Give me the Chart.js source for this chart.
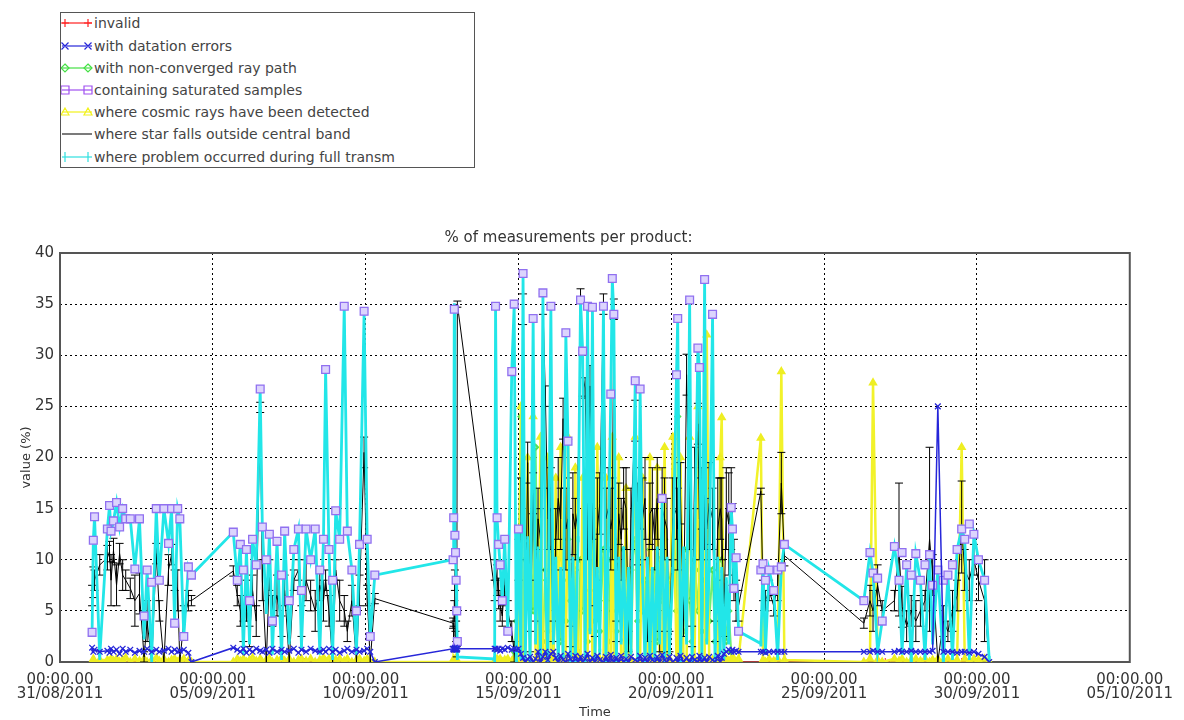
<!DOCTYPE html>
<html>
<head>
<meta charset="utf-8">
<title>% of measurements per product</title>
<script src="https://cdn.jsdelivr.net/npm/chart.js@4.4.1/dist/chart.umd.min.js"></script>
<style>
  body { margin: 0; background: #fff; }
  #wrap { position: relative; width: 1184px; height: 720px; overflow: hidden; }
  #chart { position: absolute; left: 0; top: 0; }
  #legend {
    position: absolute; left: 60px; top: 12px; width: 413px; height: 154px;
    border: 1px solid #555; background: #fff;
    font-family: "DejaVu Sans", sans-serif; font-size: 14px; color: #444;
  }
  #legend .row { position: absolute; left: 0; height: 16px; line-height: 16px; white-space: nowrap; }
  #legend svg { position: absolute; left: 0; top: 1px; }
  #legend span { position: absolute; left: 33px; top: 0; }
</style>
</head>
<body>
<div id="wrap">
  <canvas id="chart" width="1184" height="720"></canvas>
  <div id="legend"></div>
</div>
<script>
// x values are days since 31/08/2011 00:00
const dateLabels = ['31/08/2011', '05/09/2011', '10/09/2011', '15/09/2011',
                    '20/09/2011', '25/09/2011', '30/09/2011', '05/10/2011'];

const seriesNames = [
  'invalid',
  'with datation errors',
  'with non-converged ray path',
  'containing saturated samples',
  'where cosmic rays have been detected',
  'where star falls outside central band',
  'where problem occurred during full transm'
];

const times = [
  // 01/09 - 04/09
  1.05, 1.09, 1.13, 1.30, 1.55, 1.62, 1.67, 1.75, 1.85, 1.95,
  2.05, 2.15, 2.30, 2.45, 2.60, 2.75, 2.85, 3.00, 3.15, 3.25,
  3.40, 3.55, 3.65, 3.75, 3.85, 3.92, 4.05, 4.20, 4.30,
  // 05/09 - 10/09
  5.67, 5.80, 5.90, 6.00, 6.10, 6.20, 6.30, 6.42, 6.55, 6.62,
  6.75, 6.85, 6.95, 7.10, 7.25, 7.35, 7.50, 7.65, 7.80, 7.90,
  8.05, 8.20, 8.35, 8.50, 8.62, 8.69, 8.80, 8.92, 9.02, 9.15,
  9.30, 9.40, 9.55, 9.70, 9.80, 9.95, 10.05, 10.15, 10.30,
  // 12/09
  12.86, 12.88, 12.90, 12.92, 12.94, 12.96, 12.98, 13.00,
  // 14/09 - 22/09
  14.22, 14.25, 14.30, 14.35, 14.40, 14.47, 14.55, 14.65, 14.78, 14.86,
  14.93, 15.00, 15.08, 15.15, 15.22, 15.30, 15.38, 15.48, 15.56, 15.64,
  15.72, 15.80, 15.88, 15.96, 16.06, 16.14, 16.22, 16.30, 16.38, 16.46,
  16.55, 16.62, 16.70, 16.78, 16.86, 16.95, 17.03, 17.10, 17.18, 17.26,
  17.34, 17.42, 17.50, 17.58, 17.66, 17.78, 17.86, 17.94, 18.02, 18.07,
  18.12, 18.20, 18.28, 18.36, 18.44, 18.52, 18.60, 18.68, 18.82, 18.90,
  18.98, 19.06, 19.14, 19.22, 19.30, 19.38, 19.46, 19.54, 19.62, 19.70,
  19.78, 19.86, 19.94, 20.05, 20.17, 20.21, 20.30, 20.40, 20.50, 20.60,
  20.68, 20.76, 20.87, 20.92, 21.00, 21.09, 21.16, 21.24, 21.35, 21.43,
  21.52, 21.60, 21.65, 21.72, 21.80, 21.88, 21.96, 22.00, 22.05, 22.12, 22.20,
  // 22/09 - 23/09
  22.93, 23.00, 23.08, 23.20, 23.35, 23.48, 23.60, 23.70,
  // 26/09 - 30/09
  26.30, 26.50, 26.60, 26.75, 26.90, 27.30, 27.45, 27.55, 27.70, 27.85,
  28.00, 28.15, 28.30, 28.45, 28.55, 28.72, 28.90, 29.05, 29.20, 29.35,
  29.50, 29.60, 29.75, 29.90, 30.05, 30.25, 30.40
];

const fullTransm = [
  2.9, 11.9, 14.2, 0.5, 13.0, 15.3, 12.8, 13.8, 15.6, 13.2,
  15.0, 14.0, 14.0, 9.1, 14.0, 2.5, 9.0, 0.3, 15.0, 8.0,
  15.0, 11.6, 15.0, 3.8, 15.0, 14.0, 2.5, 9.3, 8.5,

  12.7, 8.0, 11.5, 1.0, 11.0, 2.0, 12.0, 9.5, 26.7, 13.2,
  5.0, 12.5, 1.0, 11.8, 0.5, 12.8, 2.0, 11.0, 13.0, 1.5,
  13.0, 10.0, 13.0, 1.0, 12.0, 28.6, 11.0, 0.5, 14.8, 12.0,
  34.8, 12.8, 9.0, 1.0, 11.5, 34.3, 12.0, 2.5, 8.5,

  10.0, 14.1, 34.8, 12.4, 10.7, 8.0, 5.0, 0.5,

  0.3, 34.8, 14.1, 11.5, 9.5, 6.0, 12.0, 3.0, 28.4, 35.0,
  0.0, 13.0, 0.5, 38.0, 0.0, 12.0, 0.0, 33.6, 2.0, 11.0,
  0.0, 36.1, 8.0, 0.0, 34.8, 2.0, 10.0, 0.0, 9.0, 0.5,
  32.2, 21.6, 0.0, 10.0, 0.0, 12.0, 35.4, 30.4, 0.0, 34.8,
  3.0, 34.7, 0.0, 9.0, 1.0, 34.8, 0.0, 11.0, 26.2, 37.5,
  34.0, 0.0, 10.0, 2.0, 11.0, 0.0, 9.0, 1.0, 27.5, 0.0,
  26.7, 8.0, 0.0, 10.0, 0.5, 9.0, 0.0, 11.0, 2.0, 16.0,
  0.0, 10.0, 1.0, 9.0, 28.1, 33.6, 0.0, 11.0, 2.0, 35.4,
  0.0, 10.0, 30.7, 28.8, 0.0, 37.4, 2.0, 9.0, 34.0, 0.0,
  10.0, 1.0, 9.0, 0.5, 8.0, 2.0, 15.1, 13.0, 7.2, 10.2, 3.0,

  1.8, 9.6, 1.0, 9.0, 7.0, 0.5, 9.3, 11.5,

  6.0, 10.7, 8.7, 1.0, 4.0, 11.3, 8.0, 1.0, 9.5, 0.0,
  10.6, 8.0, 0.5, 10.5, 2.0, 9.0, 0.0, 8.5, 0.5, 11.0,
  13.0, 12.0, 0.5, 12.5, 10.0, 8.0, 0.3
];

const saturated = [
  2.9, 11.9, 14.2, null, 13.0, 15.3, 12.8, 13.8, 15.6, 13.2,
  15.0, 14.0, 14.0, 9.1, 14.0, 4.5, 9.0, 7.8, 15.0, 8.0,
  15.0, 11.6, 15.0, 3.8, 15.0, 14.0, 2.5, 9.3, 8.5,

  12.7, 8.0, 11.5, 9.0, 11.0, 6.0, 12.0, 9.5, 26.7, 13.2,
  10.0, 12.5, 4.0, 11.8, 8.5, 12.8, 6.0, 11.0, 13.0, 7.0,
  13.0, 10.0, 13.0, 9.0, 12.0, 28.6, 11.0, 8.0, 14.8, 12.0,
  34.8, 12.8, 9.0, 5.0, 11.5, 34.3, 12.0, 2.5, 8.5,

  10.0, 14.1, 34.5, 12.4, 10.7, 8.0, 5.0, 2.0,

  null, 34.8, 14.1, 11.5, 9.5, 6.0, 12.0, 3.0, 28.4, 35.0,
  null, 13.0, null, 38.0, null, null, null, 33.6, null, null,
  null, 36.1, null, null, 34.8, null, null, null, null, null,
  32.2, 21.6, null, null, null, null, 35.4, 30.4, null, 34.8,
  null, 34.7, null, null, null, 34.8, null, null, 26.2, 37.5,
  34.0, null, null, null, null, null, null, null, 27.5, null,
  26.7, null, null, null, null, null, null, null, null, 16.0,
  null, null, null, null, 28.1, 33.6, null, null, null, 35.4,
  null, null, 30.7, 28.8, null, 37.4, null, null, 34.0, null,
  null, null, null, null, null, null, 15.1, 13.0, 7.2, 10.2, 3.0,

  9.0, 9.6, 8.0, 9.0, 7.0, 9.0, 9.3, 11.5,

  6.0, 10.7, 8.7, 8.2, 4.0, 11.3, 8.0, 10.7, 9.5, 8.5,
  10.6, 8.0, 9.5, 10.5, 7.5, 9.0, 8.0, 8.5, 9.5, 11.0,
  13.0, 12.0, 13.5, 12.5, 10.0, 8.0, null
];

const outsideBand = [
  6.5, 7.8, 8.0, 9.5, 10.2, 10.8, 8.0, 10.9, 7.5, 10.6,
  8.5, 8.0, 7.2, 6.0, 6.7, 0.5, 4.0, 0.0, 10.6, 5.0,
  0.0, 9.0, 10.5, 8.0, 7.0, 0.0, 4.0, 6.0, 6.0,

  8.9, 6.5, 5.0, 3.0, 6.0, 2.5, 7.0, 4.0, 24.9, 8.0,
  0.0, 8.5, 5.0, 6.5, 3.5, 7.0, 0.0, 8.0, 9.0, 4.0,
  8.0, 6.5, 5.0, 7.5, 6.0, 8.0, 5.0, 0.0, 9.0, 6.0,
  5.0, 3.0, 6.0, 0.0, 7.0, 20.5, 6.5, 0.0, 6.2,

  3.8, 2.5, 5.0, 8.0, 2.0, 3.0, 1.0, 35.0,

  7.0, 9.0, 8.0, 6.7, 5.5, 4.5, 7.5, 5.0, 3.0, 1.0,
  0.0, 10.0, 14.0, 34.5, 0.0, 19.5, 2.0, 16.5, 6.0, 14.0,
  12.0, 35.0, 26.0, 14.0, 15.0, 3.0, 12.0, 16.0, 14.0, 23.8,
  13.0, 14.0, 2.5, 14.5, 13.0, 15.0, 36.0, 28.0, 26.8, 14.0,
  27.0, 16.0, 4.0, 13.0, 15.5, 35.0, 14.0, 15.0, 13.0, 14.0,
  34.5, 3.0, 14.5, 12.0, 16.0, 15.0, 2.0, 14.0, 23.6, 13.5,
  16.0, 14.0, 16.0, 3.5, 14.5, 15.0, 12.0, 16.0, 2.0, 15.0,
  14.0, 13.0, 2.0, 14.0, 15.0, 13.0, 16.5, 4.0, 28.1, 15.0,
  2.5, 18.0, 23.3, 14.0, 16.0, 15.0, 13.0, 15.5, 14.0, 3.0,
  13.0, 15.0, 14.0, 4.0, 15.0, 13.5, 15.0, 11.5, 9.0, 6.0, 5.5,

  16.7, 7.0, 6.0, 7.0, 5.5, 7.5, 17.5, 10.4,

  3.8, 6.0, 5.0, 7.5, 5.0, 6.0, 11.0, 5.4, 3.5, 5.0,
  4.0, 5.0, 6.0, 12.0, 8.5, 0.0, 4.0, 3.0, 5.0, 6.5,
  13.2, 9.0, 8.0, 10.0, 8.0, 6.0, 0.0
];

// half length of the error bars on the central band series
const outsideBandErr = [
  1.0, 1.5, 1.0, 1.0, 1.2, 1.0, 2.5, 1.2, 2.0, 1.0,
  1.5, 1.0, 1.0, 2.5, 2.0, 0.5, 2.0, 0, 1.0, 1.0,
  0, 1.5, 1.0, 1.0, 2.0, 0, 1.5, 1.0, 0.5,

  0.5, 1.0, 1.5, 1.0, 2.0, 1.0, 1.5, 1.5, 0.5, 2.0,
  0, 1.5, 1.5, 2.0, 1.0, 1.5, 0, 1.0, 1.0, 1.5,
  2.0, 1.5, 2.0, 1.5, 2.0, 1.0, 1.5, 0, 1.0, 2.0,
  1.5, 1.0, 1.5, 0, 1.5, 1.5, 1.0, 0, 0.5,

  0.5, 1.0, 1.0, 1.0, 1.0, 1.0, 0.5, 0.3,

  1.0, 1.0, 1.5, 1.5, 1.5, 1.0, 1.0, 1.0, 1.0, 1.0,
  0, 2.0, 4.0, 1.5, 0, 2.0, 1.0, 2.0, 2.0, 3.0,
  3.0, 1.0, 1.0, 3.0, 4.0, 1.0, 3.0, 4.0, 3.0, 2.0,
  4.0, 4.0, 1.0, 4.0, 3.0, 5.0, 0.5, 2.0, 1.0, 4.0,
  2.0, 4.0, 1.5, 5.0, 3.0, 1.0, 3.0, 4.0, 4.0, 4.0,
  1.0, 1.0, 3.0, 4.0, 3.0, 4.0, 1.0, 3.0, 2.0, 4.0,
  3.0, 4.0, 4.0, 1.5, 3.0, 4.0, 3.0, 4.0, 1.0, 4.0,
  4.0, 3.0, 1.0, 4.0, 3.0, 4.0, 3.0, 1.5, 2.0, 4.0,
  1.0, 3.0, 2.0, 4.0, 3.0, 4.0, 3.0, 4.0, 3.0, 1.0,
  5.0, 3.0, 4.0, 1.5, 4.0, 5.0, 4.0, 4.0, 3.0, 2.0, 1.5,

  0.3, 1.0, 1.0, 1.0, 1.0, 1.5, 3.0, 1.0,

  0.5, 1.5, 2.0, 2.0, 1.0, 1.0, 6.5, 2.0, 1.5, 1.5,
  2.0, 1.5, 1.0, 9.0, 2.0, 0, 1.5, 1.0, 2.0, 1.5,
  4.5, 2.0, 2.0, 1.5, 2.0, 4.0, 0
];

const datation = [
  1.4, 1.0, 1.2, 1.0, 1.1, 0.9, 1.3, 1.0, 1.2, 0.8,
  1.3, 1.0, 1.2, 0.9, 1.1, 1.0, 1.3, 1.0, 1.2, 1.0,
  1.1, 1.3, 1.0, 1.2, 1.0, 1.1, 1.2, 0.9, 0.0,

  1.4, 1.2, 1.0, 1.3, 0.9, 1.2, 1.0, 1.3, 1.1, 1.0,
  1.2, 0.9, 1.3, 1.0, 1.2, 1.0, 1.1, 1.3, 0.9, 1.2,
  1.0, 1.3, 1.1, 1.0, 1.2, 1.0, 1.3, 1.0, 1.2, 0.9,
  1.1, 1.3, 1.0, 1.2, 1.0, 1.1, 1.3, 1.0, 0.0,

  1.3, 1.2, 1.3, 1.4, 1.2, 1.3, 1.2, 1.3,

  1.3, 1.3, 1.2, 1.3, 1.1, 1.3, 1.2, 1.4, 1.2, 1.3,
  1.2, 1.3, 0.8, 0.4, 0.0, 0.3, 0.5, 0.0, 0.3, 1.0,
  0.0, 0.5, 1.0, 0.2, 0.8, 1.0, 0.4, 0.0, 0.6, 0.2,
  0.0, 0.8, 0.3, 0.0, 0.6, 0.0, 0.5, 0.0, 0.3, 0.8,
  0.0, 0.4, 0.0, 0.6, 0.2, 0.0, 0.5, 0.0, 0.7, 0.2,
  0.0, 0.4, 0.0, 0.6, 0.0, 0.3, 0.0, 0.5, 0.2, 0.0,
  0.6, 0.0, 0.4, 0.0, 0.6, 0.2, 0.0, 0.5, 0.0, 0.7,
  0.2, 0.0, 0.5, 0.0, 0.4, 0.0, 0.6, 0.0, 0.4, 0.0,
  0.5, 0.2, 0.0, 0.6, 0.0, 0.4, 0.0, 0.5, 0.2, 0.0,
  0.6, 0.0, 0.4, 0.8, 1.0, 1.2, 1.0, 1.2, 1.0, 1.1, 1.0,

  1.0, 1.0, 0.9, 1.0, 1.0, 1.0, 1.0, 1.0,

  1.0, 1.0, 1.1, 1.0, 1.0, 1.0, 1.1, 1.0, 1.0, 1.1,
  1.0, 1.0, 1.0, 1.0, 1.1, 25.0, 1.0, 1.0, 1.0, 0.9,
  1.0, 1.0, 0.9, 1.0, 0.8, 0.5, 0.0
];

const cosmicRays = [
  0.0, 0.3, 0.0, 0.2, 0.2, 0.0, 0.3, 0.1, 0.3, 0.0,
  0.2, 0.4, 0.0, 0.3, 0.1, 0.3, 0.0, 0.2, 0.4, 0.1,
  0.3, 0.0, 0.2, 0.3, 0.0, 0.2, 0.3, 0.1, 0.0,

  0.0, 0.3, 0.1, 0.3, 0.0, 0.2, 0.4, 0.1, 0.3, 0.0,
  0.2, 0.3, 0.0, 0.2, 0.4, 0.1, 0.3, 0.0, 0.2, 0.3,
  0.1, 0.3, 0.0, 0.2, 0.4, 0.1, 0.3, 0.0, 0.2, 0.3,
  0.1, 0.3, 0.0, 0.2, 0.3, 0.1, 0.3, 0.0, 0.0,

  0.0, 0.3, 0.1, 0.2, 0.3, 0.0, 0.2, 0.0,

  0.0, 0.0, 0.3, 0.1, 0.3, 0.0, 0.2, 0.3, 0.1, 0.3,
  0.0, 0.2, 25.0, 0.3, 0.1, 20.0, 0.3, 24.0, 0.1, 0.3,
  22.0, 0.2, 0.3, 20.0, 0.2, 0.0, 18.0, 0.3, 21.0, 0.1,
  0.2, 22.0, 0.1, 0.3, 19.0, 0.2, 0.3, 18.0, 0.1, 0.3,
  20.0, 0.2, 0.3, 21.0, 0.1, 0.3, 18.0, 0.2, 0.3, 22.0,
  0.1, 0.3, 20.0, 0.2, 0.3, 17.0, 0.1, 0.3, 22.0, 0.2,
  0.3, 18.0, 0.1, 0.3, 20.0, 0.2, 0.3, 19.0, 0.1, 0.3,
  21.0, 0.2, 0.3, 22.0, 0.1, 0.3, 20.0, 0.2, 0.3, 22.0,
  0.1, 0.3, 25.0, 0.2, 0.3, 0.1, 32.0, 0.3, 0.2, 0.3,
  0.1, 20.0, 23.9, 0.2, 0.3, 0.1, 0.3, 0.2, 0.3, 0.0, 0.3,

  21.9, 0.2, 0.0, 0.3, 0.1, 0.3, 28.4, 0.2,

  0.0, 0.3, 27.3, 0.2, 0.0, 0.3, 0.1, 0.3, 0.0, 0.2,
  0.3, 0.1, 0.3, 0.0, 0.2, 0.3, 0.1, 0.3, 0.0, 0.2,
  21.0, 0.3, 0.1, 0.3, 0.2, 0.3, 0.0
];

// only sampled during 14/09 - 22/09, starting at times[convFrom]
const convFrom = 76;
const nonConverged = [
  0, 0, 0, 0, 0, 0, 0, 0, 0, 1.0,
  4.0, 8.0, 24.0, 3.0, 10.0, 6.0, 12.0, 5.0, 21.0, 4.0,
  8.0, 2.0, 9.0, 3.0, 11.0, 0.0, 6.0, 10.0, 2.0, 8.0,
  4.0, 12.0, 6.0, 3.0, 9.0, 1.0, 10.0, 5.0, 11.0, 2.0,
  7.0, 12.0, 4.0, 9.0, 3.0, 11.0, 6.0, 2.0, 10.0, 5.0,
  12.0, 3.0, 8.0, 4.0, 11.0, 6.0, 2.0, 9.0, 12.0, 4.0,
  10.0, 5.0, 8.0, 3.0, 11.0, 5.0, 9.0, 2.0, 10.0, 6.0,
  12.0, 3.0, 8.0, 10.0, 5.0, 24.0, 9.0, 3.0, 11.0, 6.0,
  2.0, 10.0, 5.0, 9.0, 3.0, 8.0, 12.0, 4.0, 9.0, 2.0,
  8.0, 3.0, 10.0, 6.0, 2.0, 5.0, 1.0, 0, 0, 0, 0
];

const invalidTimes = [1.1, 2.5, 4.0, 6.0, 8.0, 10.0, 12.9, 15.0, 18.0, 21.0, 23.2, 27.0, 29.5];
const invalid = [0, 0, 0, 0, 0, 0, 0, 0, 0, 0, 0, 0, 0];

const FONT = '"DejaVu Sans", sans-serif';
const TEXT = '#333';

const pts = (xs, ys) => ys.map((y, i) => ({ x: xs[i], y }));

// error bars for datasets carrying an errHalf array
const errorBars = {
  id: 'errorBars',
  afterDatasetDraw(chart, args) {
    const ds = chart.data.datasets[args.index];
    if (!ds.errHalf) return;
    const { ctx, chartArea: a, scales: { x, y } } = chart;
    ctx.save();
    ctx.beginPath();
    ctx.rect(a.left, a.top, a.width, a.height);
    ctx.clip();
    ctx.strokeStyle = ds.borderColor;
    ctx.lineWidth = 1;
    ctx.beginPath();
    ds.data.forEach((p, i) => {
      const e = ds.errHalf[i];
      if (p.y == null || !e) return;
      const px = x.getPixelForValue(p.x);
      const top = y.getPixelForValue(p.y + e);
      const bot = y.getPixelForValue(Math.max(0, p.y - e));
      ctx.moveTo(px, top); ctx.lineTo(px, bot);
      ctx.moveTo(px - 4, top); ctx.lineTo(px + 4, top);
      ctx.moveTo(px - 4, bot); ctx.lineTo(px + 4, bot);
    });
    ctx.stroke();
    ctx.restore();
  }
};

// box round the plot area
const frame = {
  id: 'frame',
  beforeDatasetsDraw(chart) {
    const { ctx, chartArea: a } = chart;
    ctx.save();
    ctx.strokeStyle = '#555';
    ctx.lineWidth = 2;
    ctx.strokeRect(a.left, a.top, a.width, a.height);
    ctx.restore();
  }
};

const styles = [
  { color: '#ff2020', marker: 'cross' },
  { color: '#2626d9', marker: 'crossRot' },
  { color: '#44e044', marker: 'rectRot' },
  { color: '#a050f0', marker: 'rect' },
  { color: '#f2f21a', marker: 'triangle' },
  { color: '#222222', marker: null },
  { color: '#30e0e0', marker: 'line' }
];

const datasets = [
  {
    label: seriesNames[0], data: pts(invalidTimes, invalid), order: 7,
    borderColor: styles[0].color, borderWidth: 1,
    pointStyle: 'cross', pointRadius: 4, pointBorderColor: styles[0].color
  },
  {
    label: seriesNames[1], data: pts(times, datation), order: 1,
    borderColor: '#2626d9', borderWidth: 1.5,
    pointStyle: 'crossRot', pointRadius: 4, pointBorderColor: '#2626d9', pointBorderWidth: 1.3
  },
  {
    label: seriesNames[2], data: pts(times.slice(convFrom), nonConverged), order: 6,
    borderColor: '#70f070', borderWidth: 2,
    pointStyle: 'rectRot', pointRadius: 2.5, pointBorderColor: '#55e055', pointBackgroundColor: '#9cf79c'
  },
  {
    label: seriesNames[3], data: pts(times, saturated), order: 2, showLine: false,
    borderColor: '#9a5cf0',
    pointStyle: 'rect', pointRadius: 5.5, pointBorderWidth: 1.3,
    pointBorderColor: '#9070f0', pointBackgroundColor: '#dcd4fd'
  },
  {
    label: seriesNames[4], data: pts(times, cosmicRays), order: 5,
    borderColor: '#f2f22a', borderWidth: 2.5,
    pointStyle: 'triangle', pointRadius: 3, pointBorderColor: '#eeee22', pointBackgroundColor: '#f6f650'
  },
  {
    label: seriesNames[5], data: pts(times, outsideBand), order: 4, errHalf: outsideBandErr,
    borderColor: '#000', borderWidth: 1, pointRadius: 0
  },
  {
    label: seriesNames[6], data: pts(times, fullTransm), order: 3,
    borderColor: '#22e6e8', borderWidth: 2.8,
    pointStyle: 'line', pointRotation: 90, pointRadius: 3, pointBorderColor: '#22e6e8'
  }
];

Chart.defaults.font.family = FONT;

new Chart(document.getElementById('chart'), {
  type: 'line',
  data: { datasets },
  options: {
    responsive: false,
    animation: false,
    devicePixelRatio: 1,
    layout: { padding: { top: 224, right: 47, left: 0, bottom: 0 } },
    plugins: {
      legend: { display: false },
      tooltip: { enabled: false },
      title: {
        display: true,
        text: '% of measurements per product:',
        color: TEXT,
        font: { size: 15, weight: 'normal' },
        padding: { top: 5, bottom: 6 }
      }
    },
    scales: {
      x: {
        type: 'linear', min: 0, max: 35,
        ticks: {
          stepSize: 5, autoSkip: false, maxRotation: 0, padding: 11,
          color: TEXT, font: { size: 15, lineHeight: 0.95 },
          callback: v => ['00:00.00', dateLabels[Math.round(v / 5)]]
        },
        grid: { color: '#000', lineWidth: 1, drawTicks: false },
        border: { display: false, dash: [2, 3] },
        title: { display: true, text: 'Time', color: TEXT, font: { size: 13 }, padding: { top: 0, bottom: 0 } },
        afterFit: s => { s.height = 58; }
      },
      y: {
        min: 0, max: 40,
        ticks: { stepSize: 5, padding: 6, color: TEXT, font: { size: 15 } },
        grid: { color: '#000', lineWidth: 1, drawTicks: false },
        border: { display: false, dash: [2, 3] },
        title: { display: true, text: 'value (%)', color: TEXT, font: { size: 13 }, padding: { top: 19, bottom: 0 } },
        afterFit: s => { s.width = 60; }
      }
    }
  },
  plugins: [frame, errorBars]
});

// legend box, top left
function markerPath(kind, x, y) {
  switch (kind) {
    case 'cross': return `M${x - 4} ${y}H${x + 4}M${x} ${y - 4}V${y + 4}`;
    case 'crossRot': return `M${x - 3.5} ${y - 3.5}L${x + 3.5} ${y + 3.5}M${x - 3.5} ${y + 3.5}L${x + 3.5} ${y - 3.5}`;
    case 'rectRot': return `M${x} ${y - 4}L${x + 4} ${y}L${x} ${y + 4}L${x - 4} ${y}Z`;
    case 'rect': return `M${x - 4} ${y - 4}h8v8h-8Z`;
    case 'triangle': return `M${x} ${y - 4}L${x + 4} ${y + 3}L${x - 4} ${y + 3}Z`;
    case 'line': return `M${x} ${y - 5}V${y + 5}`;
    default: return '';
  }
}

const legend = document.getElementById('legend');
seriesNames.forEach((name, i) => {
  const st = styles[i];
  const row = document.createElement('div');
  row.className = 'row';
  row.style.top = (2.3 + i * 22.2) + 'px';
  const m = st.marker ? markerPath(st.marker, 4, 7) + markerPath(st.marker, 27, 7) : '';
  row.innerHTML =
    `<svg width="33" height="14"><path d="M1 7H31" stroke="${st.color}" stroke-width="1.2" fill="none"/>` +
    `<path d="${m}" stroke="${st.color}" stroke-width="1.2" fill="none"/></svg>` +
    `<span>${name}</span>`;
  legend.appendChild(row);
});
</script>
</body>
</html>
